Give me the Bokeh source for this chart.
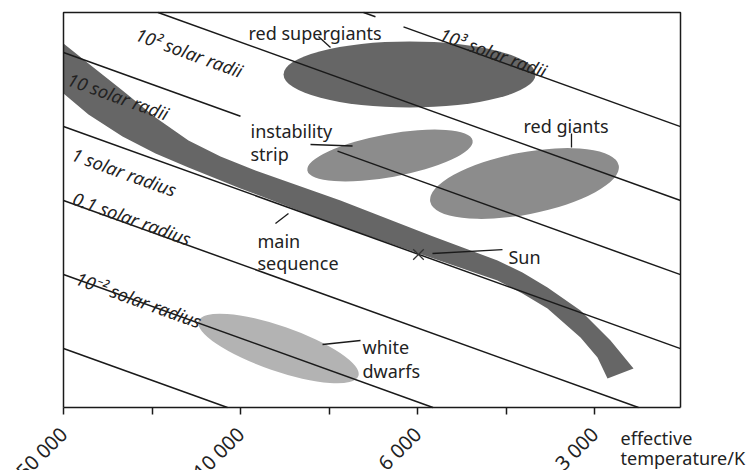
import math
from bokeh.plotting import figure
from bokeh.models import Range1d, FixedTicker
from bokeh.core.properties import value
from bokeh.embed import file_html
from bokeh.resources import INLINE

FONT = "Noto Sans"
TXT = "#222222"
INK = "#1a1a1a"

# ---- x axis (schematic temperature scale) ----
tick_positions = [0, 1, 2, 3, 4, 5, 6]
tick_labels = ["50 000", "", "10 000", "", "6 000", "", "3 000"]
axis_title = ["effective", "temperature/K"]
axis_title_x = [6.294, 6.294]
axis_title_y = [-0.339, -0.565]

# ---- diagram box (data units) ----
X_BOX = 617 / 88.5
Y_BOX = 395 / 88.5

# ---- lines of constant radius: y = intercept + slope * x ----
radius_names = ["10³ solar radii", "10² solar radii", "10 solar radii",
                "1 solar radius", "0.1 solar radius", "10⁻² solar radius"]
radius_intercepts = [5.684, 4.848, 4.011, 3.175, 2.339, 1.503, 0.667]
radius_slope = -0.36
radius_gaps = [(3.525, 3.842), None, (2.0, 3.096), None, None, None, None]
radius_label_x = [4.26, 0.825, 0.056, 0.102, 0.113, 0.147]
radius_label_y = [4.226, 4.226, 3.718, 2.870, 2.373, 1.469]

# ---- main sequence band (upper and lower edges) ----
ms_upper_x = [0.0, 0.282, 0.667, 1.040, 1.412, 1.774, 2.169, 3.130, 4.147, 4.904, 5.186, 5.469, 5.842, 6.181, 6.441]
ms_upper_y = [4.113, 3.887, 3.582, 3.277, 3.017, 2.836, 2.678, 2.339, 1.944, 1.661, 1.525, 1.356, 1.096, 0.757, 0.441]
ms_lower_x = [0.0, 0.282, 0.667, 1.040, 1.412, 2.0, 3.130, 4.147, 4.904, 5.186, 5.469, 5.842, 6.034, 6.147]
ms_lower_y = [3.548, 3.311, 3.062, 2.870, 2.712, 2.475, 2.045, 1.695, 1.435, 1.288, 1.119, 0.791, 0.565, 0.328]

# ---- star regions (ellipses) ----
region_names = ["red supergiants", "instability strip", "red giants", "white dwarfs"]
region_x = [3.910, 3.689, 5.209, 2.429]
region_y = [3.763, 2.847, 2.531, 0.667]
region_w = [2.847, 1.898, 2.169, 1.910]
region_h = [0.746, 0.486, 0.700, 0.508]
region_angle = [0.0, 0.18, 0.19, -0.332]
region_color = ["#666666", "#8c8c8c", "#8c8c8c", "#b3b3b3"]

# ---- Sun ----
sun_x, sun_y = 4.011, 1.729

# ---- annotation texts ----
note_text = ["red supergiants", "instability", "strip", "red giants",
             "main", "sequence", "Sun", "white", "dwarfs"]
note_x = [2.090, 2.113, 2.113, 5.198, 2.192, 2.192, 5.028, 3.379, 3.379]
note_y = [4.237, 3.119, 2.859, 3.186, 1.887, 1.638, 1.695, 0.678, 0.418]

# ---- leader lines ----
lead_x0 = [2.881, 2.791, 5.740, 2.395, 4.169, 2.927]
lead_y0 = [4.192, 2.972, 3.096, 2.079, 1.740, 0.712]
lead_x1 = [3.017, 3.266, 5.740, 2.542, 4.960, 3.356]
lead_y1 = [4.068, 2.955, 2.938, 2.192, 1.785, 0.757]

PX = 88.5  # pixels per data unit
p = figure(width=753, height=470, output_backend="svg", toolbar_location=None,
           x_range=Range1d(-63 / PX, 690 / PX), y_range=Range1d(-63 / PX, Y_BOX + 12 / PX),
           y_axis_location=None, min_border_left=0, min_border_right=0,
           min_border_top=0, min_border_bottom=0)
p.xgrid.visible = False
p.ygrid.visible = False
p.outline_line_color = None
p.background_fill_color = "white"
p.border_fill_color = "white"

# regions
p.ellipse(x=region_x, y=region_y, width=region_w, height=region_h,
          angle=region_angle, fill_color=region_color, line_color=None)

# main sequence
p.patch(ms_upper_x + ms_lower_x[::-1], ms_upper_y + ms_lower_y[::-1],
        fill_color="#666666", line_color=None)

# radius lines clipped to the diagram box
xs, ys = [], []
for b, gap in zip(radius_intercepts, radius_gaps):
    x_start = max(0.0, (Y_BOX - b) / radius_slope)
    x_end = min(X_BOX, -b / radius_slope)
    pieces = [(x_start, x_end)] if gap is None else [(x_start, gap[0]), (gap[1], x_end)]
    for a, c in pieces:
        xs.append([a, c])
        ys.append([b + radius_slope * a, b + radius_slope * c])
p.multi_line(xs, ys, line_color=INK, line_width=1.5)

# leader lines
p.segment(lead_x0, lead_y0, lead_x1, lead_y1, line_color=INK, line_width=1.3)

# Sun marker
p.scatter(x=[sun_x], y=[sun_y], marker="x", size=15, line_color="#333333", line_width=1.3)

# radius labels
ang = math.atan(radius_slope)
p.text(x=radius_label_x, y=radius_label_y, text=radius_names, angle=ang,
       text_font=value(FONT), text_font_style="italic", text_font_size="18px",
       text_color=TXT, text_align="left", text_baseline="alphabetic")

# notes
p.text(x=note_x, y=note_y, text=note_text,
       text_font=value(FONT), text_font_size="18px",
       text_color=TXT, text_align="left", text_baseline="alphabetic")

# axis title
p.text(x=axis_title_x, y=axis_title_y, text=axis_title,
       text_font=value(FONT), text_font_size="18px",
       text_color=TXT, text_align="left", text_baseline="alphabetic")

# diagram box (left, top, right edges; bottom is the axis line)
p.multi_line([[0, 0, X_BOX, X_BOX]], [[0, Y_BOX, Y_BOX, 0]], line_color=INK, line_width=1.5)

# axis
ax = p.xaxis[0]
ax.fixed_location = 0
ax.bounds = (0, X_BOX)
ax.ticker = FixedTicker(ticks=tick_positions)
ax.major_label_overrides = {t: l for t, l in zip(tick_positions, tick_labels)}
ax.minor_tick_line_color = None
ax.major_tick_in = 0
ax.major_tick_out = 7
ax.major_tick_line_width = 1.5
ax.axis_line_width = 1.5
ax.axis_line_color = INK
ax.major_tick_line_color = INK
ax.major_label_orientation = math.pi / 4
ax.major_label_text_font = FONT
ax.major_label_text_font_size = "20px"
ax.major_label_text_color = TXT
ax.major_label_standoff = 16

open("out.html", "w").write(file_html(p, INLINE))
